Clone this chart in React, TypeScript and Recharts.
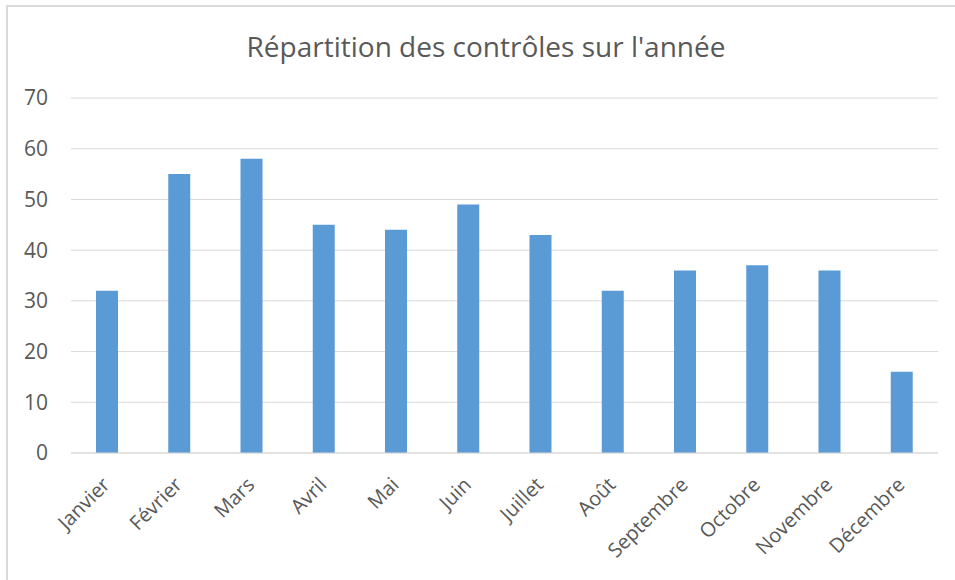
import { BarChart, Bar, XAxis, YAxis, CartesianGrid } from "recharts";

const months = [
  "Janvier",
  "Février",
  "Mars",
  "Avril",
  "Mai",
  "Juin",
  "Juillet",
  "Août",
  "Septembre",
  "Octobre",
  "Novembre",
  "Décembre",
];
const controles = [32, 55, 58, 45, 44, 49, 43, 32, 36, 37, 36, 16];
const yTicks = [0, 10, 20, 30, 40, 50, 60, 70];

const data = months.map((m, i) => ({ mois: m, value: controles[i] }));

const FONT = "'Open Sans', sans-serif";
const GREY = "#595959";

function MonthTick(props: any) {
  const { x, y, payload } = props;
  const ax = x + 4;
  const ay = y + 25;
  return (
    <text
      x={ax}
      y={ay}
      transform={`rotate(-45, ${ax}, ${ay})`}
      textAnchor="end"
      fill={GREY}
      fontSize={20}
      fontFamily={FONT}
    >
      {payload.value}
    </text>
  );
}

export default function App() {
  return (
    <div
      style={{
        position: "absolute",
        left: 0,
        top: 0,
        width: 955,
        height: 580,
        overflow: "hidden",
        background: "#fff",
      }}
    >
      <div
        style={{
          position: "absolute",
          left: 6,
          top: 5,
          width: 960,
          height: 590,
          border: "2px solid #d9d9d9",
          boxSizing: "border-box",
        }}
      />
      <BarChart
        width={955}
        height={580}
        data={data}
        margin={{ top: 98, right: 17, bottom: 0, left: 0 }}
        style={{ position: "absolute", left: 0, top: 0 }}
      >
        <text
          x={486}
          y={57}
          textAnchor="middle"
          fill={GREY}
          fontSize={28}
          fontFamily={FONT}
        >
          Répartition des contrôles sur l'année
        </text>
        <CartesianGrid vertical={false} stroke="#d9d9d9" strokeWidth={1} />
        <XAxis
          dataKey="mois"
          height={127}
          interval={0}
          tickLine={false}
          axisLine={{ stroke: "#d9d9d9", strokeWidth: 1 }}
          tick={<MonthTick />}
        />
        <YAxis
          width={71}
          domain={[0, 70]}
          ticks={yTicks}
          interval={0}
          tickLine={false}
          axisLine={false}
          tickSize={0}
          tickMargin={23}
          tick={{ fill: GREY, fontSize: 21, fontFamily: FONT }}
        />
        <Bar dataKey="value" fill="#5b9bd5" barSize={22} isAnimationActive={false} />
      </BarChart>
    </div>
  );
}
